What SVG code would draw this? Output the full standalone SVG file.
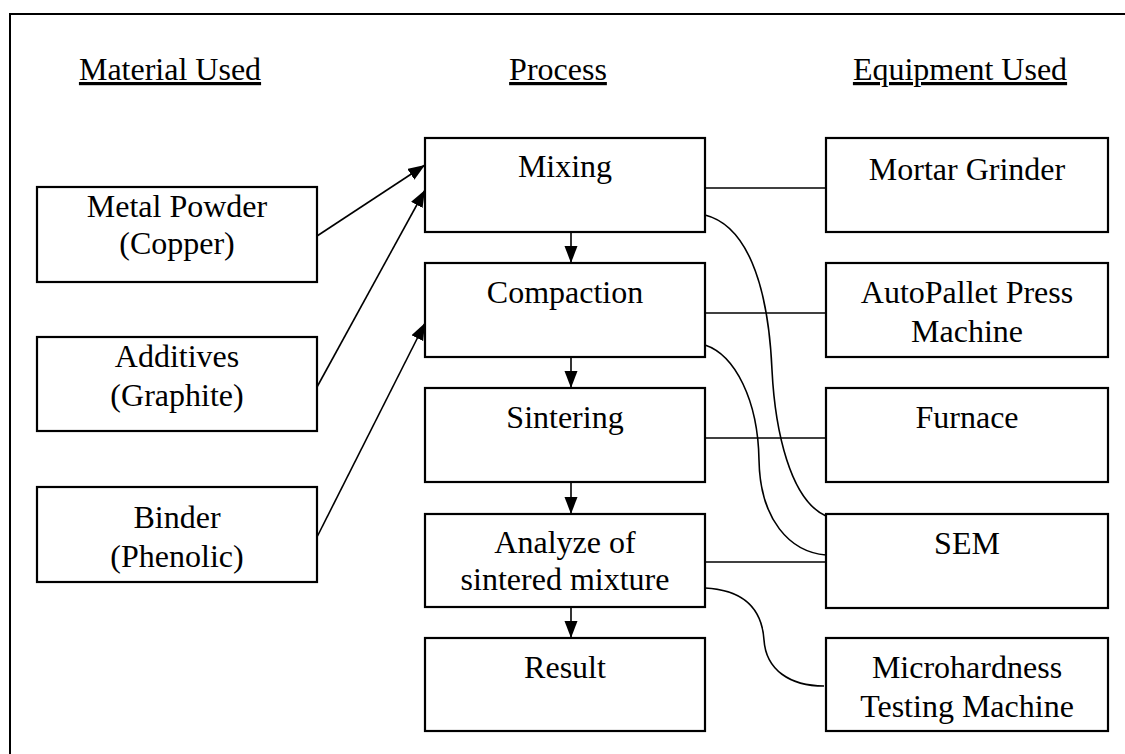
<svg xmlns="http://www.w3.org/2000/svg" width="1125" height="754" viewBox="0 0 1125 754">
  <defs>
    <marker id="arr" markerUnits="userSpaceOnUse" markerWidth="18" markerHeight="14" refX="17" refY="6.5" orient="auto">
      <path d="M0,0 L17,6.5 L0,13 z" fill="#000"/>
    </marker>
    <style>
      .box { fill: #fff; stroke: #000; stroke-width: 2.2; }
      .t { font-size: 32px; fill: #000; text-anchor: middle; }
      .hd { text-decoration: underline; }
      .ln { fill: none; stroke: #000; stroke-width: 1.6; }
    </style>
  </defs>
  <rect x="0" y="0" width="1125" height="754" fill="#fff"/>
  <rect id="frame" x="10" y="14" width="1125" height="760" fill="none" stroke="#000" stroke-width="2"/>

  <g font-family="'Liberation Serif', Tinos, 'Times New Roman', 'DejaVu Serif', serif">
  <g id="headers">
    <text class="t hd" x="170" y="80">Material Used</text>
    <text class="t hd" x="558" y="80">Process</text>
    <text class="t hd" x="960" y="80">Equipment Used</text>
  </g>

  <g id="connectors">
    <line class="ln" x1="317" y1="236" x2="425" y2="165" marker-end="url(#arr)"/>
    <line class="ln" x1="317" y1="387" x2="425" y2="190" marker-end="url(#arr)"/>
    <line class="ln" x1="317" y1="537" x2="425" y2="323" marker-end="url(#arr)"/>
    <line class="ln" x1="571" y1="232" x2="571" y2="263" marker-end="url(#arr)"/>
    <line class="ln" x1="571" y1="357" x2="571" y2="388" marker-end="url(#arr)"/>
    <line class="ln" x1="571" y1="482" x2="571" y2="514" marker-end="url(#arr)"/>
    <line class="ln" x1="571" y1="607" x2="571" y2="638" marker-end="url(#arr)"/>
    <line class="ln" x1="705" y1="188" x2="826" y2="188"/>
    <line class="ln" x1="705" y1="313" x2="826" y2="313"/>
    <line class="ln" x1="705" y1="438" x2="826" y2="438"/>
    <line class="ln" x1="705" y1="562" x2="826" y2="562"/>
    <path class="ln" d="M705,215 C745,225 768,280 772,370 C775,430 790,500 826,516"/>
    <path class="ln" d="M705,345 C735,355 758,400 759,460 C760,520 790,552 826,555"/>
    <path class="ln" d="M705,588 C745,590 762,610 764,640 C766,670 790,686 824,686"/>
  </g>

  <g id="metal-powder">
    <rect class="box" x="37" y="187" width="280" height="95"/>
    <text class="t" x="177" y="217">Metal Powder</text>
    <text class="t" x="177" y="254">(Copper)</text>
  </g>
  <g id="additives">
    <rect class="box" x="37" y="337" width="280" height="94"/>
    <text class="t" x="177" y="367">Additives</text>
    <text class="t" x="177" y="406">(Graphite)</text>
  </g>
  <g id="binder">
    <rect class="box" x="37" y="487" width="280" height="95"/>
    <text class="t" x="177" y="528">Binder</text>
    <text class="t" x="177" y="567">(Phenolic)</text>
  </g>

  <g id="mixing">
    <rect class="box" x="425" y="138" width="280" height="94"/>
    <text class="t" x="565" y="177">Mixing</text>
  </g>
  <g id="compaction">
    <rect class="box" x="425" y="263" width="280" height="94"/>
    <text class="t" x="565" y="303">Compaction</text>
  </g>
  <g id="sintering">
    <rect class="box" x="425" y="388" width="280" height="94"/>
    <text class="t" x="565" y="428">Sintering</text>
  </g>
  <g id="analyze">
    <rect class="box" x="425" y="514" width="280" height="93"/>
    <text class="t" x="565" y="553">Analyze of</text>
    <text class="t" x="565" y="590">sintered mixture</text>
  </g>
  <g id="result">
    <rect class="box" x="425" y="638" width="280" height="93"/>
    <text class="t" x="565" y="678">Result</text>
  </g>

  <g id="mortar-grinder">
    <rect class="box" x="826" y="138" width="282" height="94"/>
    <text class="t" x="967" y="180">Mortar Grinder</text>
  </g>
  <g id="autopallet">
    <rect class="box" x="826" y="263" width="282" height="94"/>
    <text class="t" x="967" y="303">AutoPallet Press</text>
    <text class="t" x="967" y="342">Machine</text>
  </g>
  <g id="furnace">
    <rect class="box" x="826" y="388" width="282" height="94"/>
    <text class="t" x="967" y="428">Furnace</text>
  </g>
  <g id="sem">
    <rect class="box" x="826" y="514" width="282" height="94"/>
    <text class="t" x="967" y="554">SEM</text>
  </g>
  <g id="microhardness">
    <rect class="box" x="826" y="638" width="282" height="93"/>
    <text class="t" x="967" y="678">Microhardness</text>
    <text class="t" x="967" y="717">Testing Machine</text>
  </g>
  </g>
</svg>
